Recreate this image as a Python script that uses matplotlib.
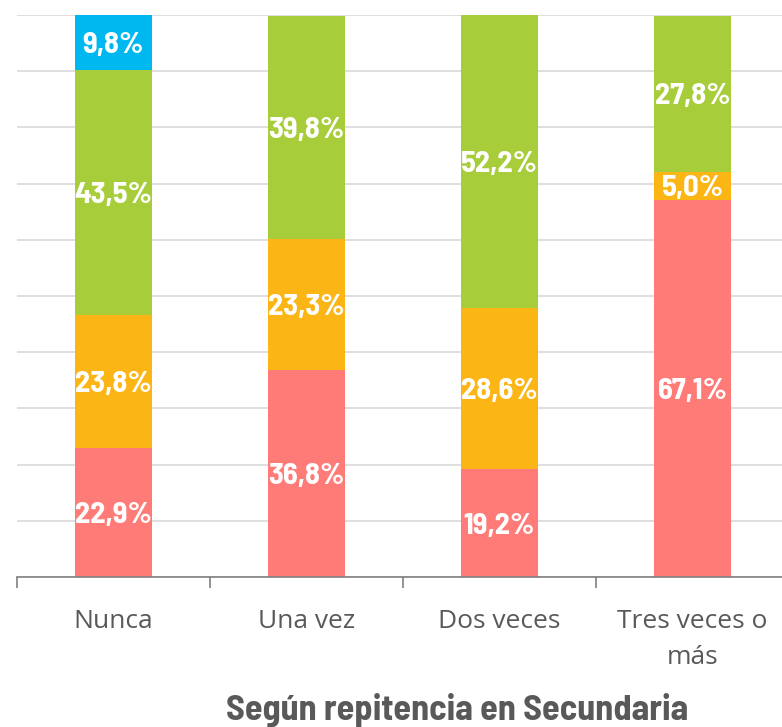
import matplotlib
matplotlib.use("Agg")
import matplotlib.pyplot as plt
from matplotlib import font_manager as fm
import numpy as np

categories = ["Nunca", "Una vez", "Dos veces", "Tres veces o\nmás"]
red_vals = [22.9, 36.8, 19.2, 67.1]
orange_vals = [23.8, 23.3, 28.6, 5.0]
green_vals = [43.5, 39.8, 52.2, 27.8]
blue_vals = [9.8, 0.0, 0.0, 0.0]
colors = ["#FF7B77", "#FBB515", "#A8CD3A", "#00B8F0"]
title = "Según repitencia en Secundaria"

names = {f.name for f in fm.fontManager.ttflist}
narrow = "Barlow Semi Condensed" if "Barlow Semi Condensed" in names else "DejaVu Sans"
tickfont = "Open Sans" if "Open Sans" in names else "DejaVu Sans"

W, H = 782, 727
fig = plt.figure(figsize=(W/100, H/100), dpi=100)
ax = fig.add_axes([17/W, (H-577)/H, (789-17)/W, (577-15)/H])

x = np.arange(len(categories))
bottom = np.zeros(len(categories))
for vals, c in zip([red_vals, orange_vals, green_vals, blue_vals], colors):
    vals = np.array(vals)
    ax.bar(x, vals, bottom=bottom, width=0.4, color=c, zorder=2)
    for xi, b, v in zip(x, bottom, vals):
        if v > 0:
            ax.text(xi, b + v/2, f"{v:.1f}%".replace(".", ","), ha="center", va="center_baseline",
                    color="white", fontsize=22, fontweight="bold", family=narrow, zorder=3)
    bottom += vals

ax.set_xlim(-0.5, 3.5)
ax.set_ylim(0, 100)
ax.set_yticks(np.arange(0, 101, 10))
ax.yaxis.grid(True, color="#D9D9D9", linewidth=1.2, zorder=0)
ax.tick_params(axis="y", left=False, labelleft=False)
for s in ["top", "right", "left"]:
    ax.spines[s].set_visible(False)
ax.spines["bottom"].set_color("#808080")
ax.spines["bottom"].set_linewidth(1.2)
ax.set_xticks(x)
ax.set_xticklabels(categories, fontsize=19, color="#595959", family=tickfont, linespacing=1.6)
ax.tick_params(axis="x", which="major", length=0, pad=23)
ax.set_xticks(np.arange(-0.5, 4, 1), minor=True)
ax.tick_params(axis="x", which="minor", length=8, color="#808080", width=1.2)

fig.text(457/W, 1 - 710/H, title, ha="center", va="center", fontsize=26,
         fontweight="bold", color="#595959", family=narrow)

fig.savefig("out.png", dpi=100)
